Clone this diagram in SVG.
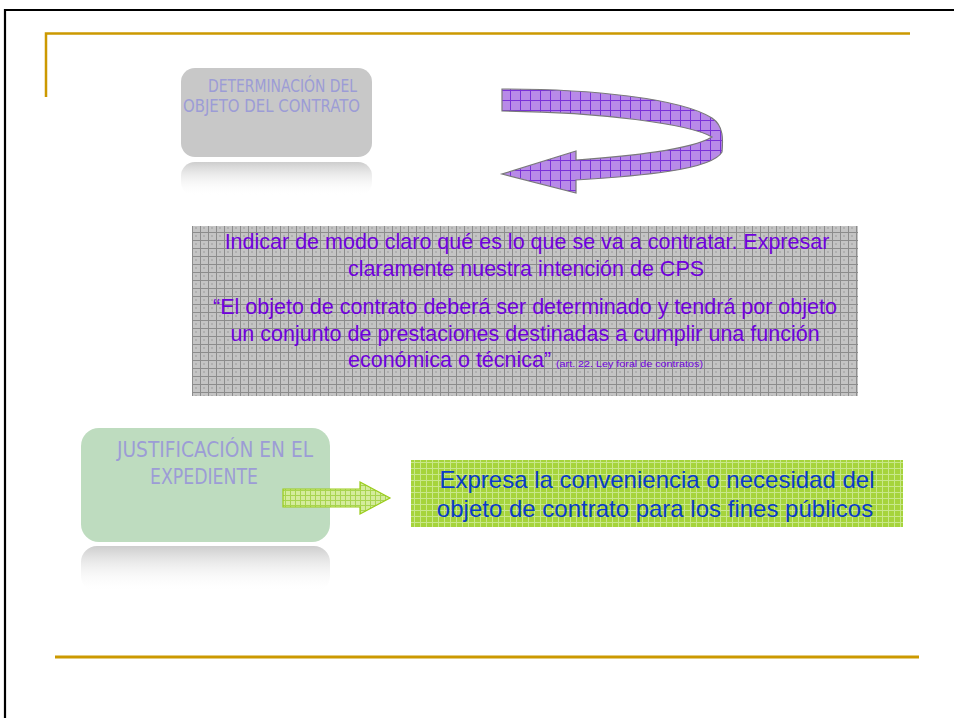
<svg xmlns="http://www.w3.org/2000/svg" width="954" height="718" viewBox="0 0 954 718">
<style>
.lbl{font-family:"Liberation Sans Narrow","DejaVu Sans Condensed","Liberation Sans",sans-serif;fill:#9c9cd6}
.pur{font-family:"Liberation Sans",Arial,sans-serif;fill:#7000dc;font-size:21.5px;text-anchor:middle}
.st{text-anchor:start}
.sm{font-size:9.5px}
.blu{font-family:"Liberation Sans",Arial,sans-serif;fill:#0a3cc8;font-size:24px;text-anchor:middle}
.gold{stroke:#cc9900;fill:none}
</style>
<defs>
<pattern id="pgrid" width="10" height="10" patternUnits="userSpaceOnUse">
<rect width="10" height="10" fill="#b88ae8"/>
<path d="M0,0.5H10M0.5,0V10" stroke="#7a30d8" stroke-width="1"/>
</pattern>
<pattern id="ggrid" width="8" height="8" patternUnits="userSpaceOnUse">
<rect width="8" height="8" fill="#c4c4c4"/>
<path d="M0,0.5H8M0.5,0V8" stroke="#8c8c8c" stroke-width="1"/>
<rect x="3" y="3" width="2" height="2" fill="#b0b0b0"/>
</pattern>
<pattern id="lgrid" width="6" height="6" patternUnits="userSpaceOnUse">
<rect width="6" height="6" fill="#a6d43c"/>
<path d="M0,0.5H6M0.5,0V6" stroke="#c8e88a" stroke-width="1"/>
</pattern>
<pattern id="agrid" width="5" height="5" patternUnits="userSpaceOnUse">
<rect width="5" height="5" fill="#d4ec9c"/>
<path d="M0,0.5H5M0.5,0V5" stroke="#a8d450" stroke-width="1"/>
</pattern>
<linearGradient id="refl" x1="0" y1="0" x2="0" y2="1">
<stop offset="0" stop-color="#c4c4c4" stop-opacity="0.85"/>
<stop offset="1" stop-color="#ffffff" stop-opacity="0"/>
</linearGradient>
</defs>

<g id="frame">
<path d="M5,718V10H954" stroke="#000" stroke-width="2.2" fill="none"/>
<path class="gold" d="M46,97V33.5H910" stroke-width="2.5"/>
<path class="gold" d="M55,657H919" stroke-width="3"/>
</g>

<g id="node-determinacion">
<rect x="181" y="162" width="191" height="34" rx="14" fill="url(#refl)"/>
<rect x="181" y="68" width="191" height="89" rx="14" fill="#c8c8c8"/>
<text class="lbl" font-size="17.5" x="208" y="92" textLength="149" lengthAdjust="spacingAndGlyphs">DETERMINACIÓN DEL</text>
<text class="lbl" font-size="17.5" x="183" y="112" textLength="177" lengthAdjust="spacingAndGlyphs">OBJETO DEL CONTRATO</text>
</g>

<g id="node-definicion">
<rect x="192" y="226" width="666" height="170" fill="url(#ggrid)"/>
<text class="pur" x="527" y="249">Indicar de modo claro qué es lo que se va a contratar. Expresar</text>
<text class="pur" x="526" y="276">claramente nuestra intención de CPS</text>
<text class="pur" x="525" y="314">“El objeto de contrato deberá ser determinado y tendrá por objeto</text>
<text class="pur" x="525" y="341">un conjunto de prestaciones destinadas a cumplir una función</text>
<text class="pur st" x="348" y="367">económica o técnica”</text>
<text class="pur st sm" x="556" y="367" textLength="147" lengthAdjust="spacingAndGlyphs">(art. 22. Ley foral de contratos)</text>
</g>

<g id="node-justificacion">
<rect x="81" y="546" width="249" height="46" rx="16" fill="url(#refl)"/>
<rect x="81" y="428" width="249" height="114" rx="18" fill="#bedcbf"/>
<text class="lbl" font-size="21" x="117" y="457" textLength="196" lengthAdjust="spacingAndGlyphs">JUSTIFICACIÓN EN EL</text>
<text class="lbl" font-size="21" x="150" y="484" textLength="108" lengthAdjust="spacingAndGlyphs">EXPEDIENTE</text>
</g>

<g id="node-expresa">
<rect x="411" y="460" width="492" height="67" fill="url(#lgrid)"/>
<text class="blu" x="657" y="488">Expresa la conveniencia o necesidad del</text>
<text class="blu" x="655" y="517">objeto de contrato para los fines públicos</text>
</g>

<g id="connectors">
<path d="M502,89 C590,89 680,98 712,118 C724,126 723,140 722,152 C712,170 640,176 576,180 L576,193 L502,174 L576,151 L576,160 C630,156 690,150 712,137 C690,124 600,112 502,111 Z" fill="url(#pgrid)" stroke="#7a7a7a" stroke-width="1.2"/>
<path d="M283,489 H360 V482 L390,498 L360,514 V507 H283 Z" fill="url(#agrid)" stroke="#9acc1a" stroke-width="1.2"/>
</g>
</svg>
